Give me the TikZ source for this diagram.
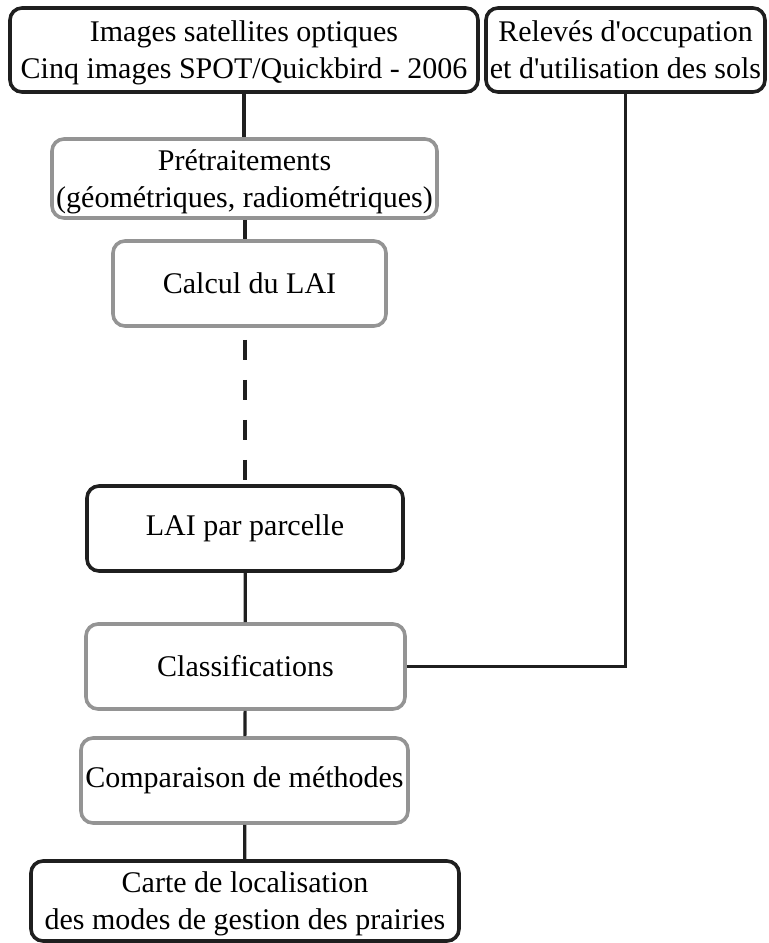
\documentclass[tikz,border=0pt]{standalone}
\usepackage{fontspec}
\setmainfont{Liberation Serif}
\usetikzlibrary{positioning}

\newcommand{\boxfont}{\fontsize{15}{18.5}\selectfont}

\tikzset{
  outbox/.style={draw=black!88, line width=1.8pt, rounded corners=6pt,
                 align=center, font=\boxfont, inner sep=0pt},
  stepbox/.style={outbox, draw=black!42},
  twolines/.style={text depth=-4.5pt},
  link/.style={draw=black!88, line width=1.6pt},
}

\begin{document}
\begin{tikzpicture}[x=0.5pt, y=-0.5pt]

\useasboundingbox (0,0) rectangle (768,943);

% inputs
\node[outbox, twolines, minimum width=234pt, minimum height=42pt] (images) at (244,50)
  {Images satellites optiques\\Cinq images SPOT/Quickbird - 2006};
\node[outbox, twolines, minimum width=139.5pt, minimum height=42pt] (releves) at (625.5,50)
  {Relev\'es d\textquotesingle occupation\\et d\textquotesingle utilisation des sols};

% processing chain
\node[stepbox, twolines, minimum width=192.5pt, minimum height=39.5pt] (pretrait) at (244.5,178.5)
  {Pr\'etraitements\\(g\'eom\'etriques, radiom\'etriques)};
\node[stepbox, minimum width=136.5pt, minimum height=42.5pt] (calcul) at (249.5,283.5)
  {Calcul du LAI};
\node[outbox, minimum width=158pt, minimum height=42.5pt] (laiparc) at (245,528.5)
  {LAI par parcelle};
\node[stepbox, minimum width=159.5pt, minimum height=42.5pt] (classif) at (245.5,666.5)
  {Classifications};
\node[stepbox, minimum width=163.5pt, minimum height=42.5pt] (compar) at (244.5,780.5)
  {Comparaison de m\'ethodes};
\node[outbox, twolines, minimum width=214pt, minimum height=40pt] (carte) at (245,901)
  {Carte de localisation\\des modes de gestion des prairies};

% links
\draw[link] (images.south) -- (images.south |- pretrait.north);
\draw[link] (pretrait.south -| laiparc.north) -- (laiparc.north |- calcul.north);
\draw[link, dash pattern=on 10pt off 10pt, shorten <=6pt]
  (laiparc.north |- calcul.south) -- (laiparc.north);
\draw[link] (laiparc) -- (classif);
\draw[link] (classif) -- (compar);
\draw[link] (compar) -- (carte);
\draw[link] (classif.east) -| (releves.south);

\end{tikzpicture}
\end{document}
